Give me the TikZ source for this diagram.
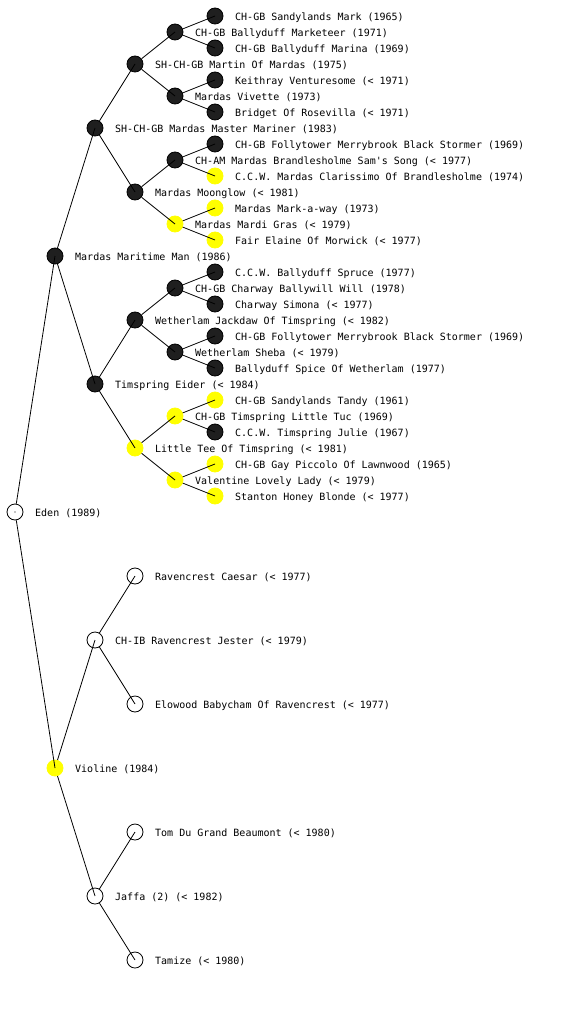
\documentclass[tikz,border=0pt]{standalone}
\usepackage{fontspec}
\newfontfamily\pedfont{DejaVu Sans Mono}
\definecolor{pedyel}{RGB}{255,255,0}
\tikzset{
  nd/.style={circle, minimum size=16pt, inner sep=0pt, line width=0.8pt},
  blk/.style={nd, draw=black, fill=black!88},
  yel/.style={nd, draw=pedyel, fill=pedyel},
  wht/.style={nd, draw=black, fill=white},
  lbl/.style={anchor=base west, inner sep=0pt, font=\pedfont\fontsize{10pt}{12pt}\selectfont},
  edge/.style={line width=0.8pt, draw=black}
}
\newcommand\pn[5]{%
  \node[#4] (#1) at (#2,#3) {};
  \node[lbl] (#1-l) at (#2+20,#3+4.5) {#5};
}
\begin{document}
\begin{tikzpicture}[x=1pt,y=-1pt]
\useasboundingbox (0,0) rectangle (560,1024);
% generation 0
\pn{e}{15}{512}{wht}{Eden (1989)}
% generation 1
\pn{a}{55}{256}{blk}{Mardas Maritime Man (1986)}
\pn{b}{55}{768}{yel}{Violine (1984)}
% generation 2
\pn{aa}{95}{128}{blk}{SH-CH-GB Mardas Master Mariner (1983)}
\pn{ab}{95}{384}{blk}{Timspring Eider (< 1984)}
\pn{ba}{95}{640}{wht}{CH-IB Ravencrest Jester (< 1979)}
\pn{bb}{95}{896}{wht}{Jaffa (2) (< 1982)}
% generation 3
\pn{aaa}{135}{64}{blk}{SH-CH-GB Martin Of Mardas (1975)}
\pn{aab}{135}{192}{blk}{Mardas Moonglow (< 1981)}
\pn{aba}{135}{320}{blk}{Wetherlam Jackdaw Of Timspring (< 1982)}
\pn{abb}{135}{448}{yel}{Little Tee Of Timspring (< 1981)}
\pn{baa}{135}{576}{wht}{Ravencrest Caesar (< 1977)}
\pn{bab}{135}{704}{wht}{Elowood Babycham Of Ravencrest (< 1977)}
\pn{bba}{135}{832}{wht}{Tom Du Grand Beaumont (< 1980)}
\pn{bbb}{135}{960}{wht}{Tamize (< 1980)}
% generation 4
\pn{aaaa}{175}{32}{blk}{CH-GB Ballyduff Marketeer (1971)}
\pn{aaab}{175}{96}{blk}{Mardas Vivette (1973)}
\pn{aaba}{175}{160}{blk}{CH-AM Mardas Brandlesholme Sam's Song (< 1977)}
\pn{aabb}{175}{224}{yel}{Mardas Mardi Gras (< 1979)}
\pn{abaa}{175}{288}{blk}{CH-GB Charway Ballywill Will (1978)}
\pn{abab}{175}{352}{blk}{Wetherlam Sheba (< 1979)}
\pn{abba}{175}{416}{yel}{CH-GB Timspring Little Tuc (1969)}
\pn{abbb}{175}{480}{yel}{Valentine Lovely Lady (< 1979)}
% generation 5
\pn{aaaaa}{215}{16}{blk}{CH-GB Sandylands Mark (1965)}
\pn{aaaab}{215}{48}{blk}{CH-GB Ballyduff Marina (1969)}
\pn{aaaba}{215}{80}{blk}{Keithray Venturesome (< 1971)}
\pn{aaabb}{215}{112}{blk}{Bridget Of Rosevilla (< 1971)}
\pn{aabaa}{215}{144}{blk}{CH-GB Follytower Merrybrook Black Stormer (1969)}
\pn{aabab}{215}{176}{yel}{C.C.W. Mardas Clarissimo Of Brandlesholme (1974)}
\pn{aabba}{215}{208}{yel}{Mardas Mark-a-way (1973)}
\pn{aabbb}{215}{240}{yel}{Fair Elaine Of Morwick (< 1977)}
\pn{abaaa}{215}{272}{blk}{C.C.W. Ballyduff Spruce (1977)}
\pn{abaab}{215}{304}{blk}{Charway Simona (< 1977)}
\pn{ababa}{215}{336}{blk}{CH-GB Follytower Merrybrook Black Stormer (1969)}
\pn{ababb}{215}{368}{blk}{Ballyduff Spice Of Wetherlam (1977)}
\pn{abbaa}{215}{400}{yel}{CH-GB Sandylands Tandy (1961)}
\pn{abbab}{215}{432}{blk}{C.C.W. Timspring Julie (1967)}
\pn{abbba}{215}{464}{yel}{CH-GB Gay Piccolo Of Lawnwood (1965)}
\pn{abbbb}{215}{496}{yel}{Stanton Honey Blonde (< 1977)}
% edges: from parent boundary to child centre
\draw[edge] (e) -- (a.center);
\draw[edge] (e) -- (b.center);
\foreach \p in {a,b,aa,ab,ba,bb,aaa,aab,aba,abb,aaaa,aaab,aaba,aabb,abaa,abab,abba,abbb}{
  \draw[edge] (\p) -- (\p a.center);
  \draw[edge] (\p) -- (\p b.center);
}
\fill (e.center) circle (0.6pt);
\end{tikzpicture}
\end{document}
